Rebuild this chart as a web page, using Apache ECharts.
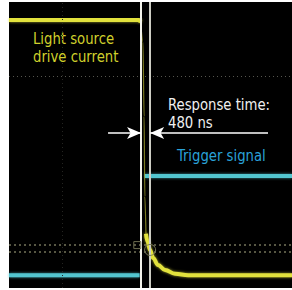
<!DOCTYPE html>
<html>
<head>
<meta charset="utf-8">
<script src="https://cdn.jsdelivr.net/npm/echarts@6/dist/echarts.min.js"></script>
<style>
  html, body { margin: 0; padding: 0; background: #fff; }
  #chart { width: 292px; height: 290px; }
</style>
</head>
<body>
<div id="chart"></div>
<script>
// time in µs (trigger at 0), level in screen divisions
var timeRange = [-7, 8]
var levelRange = [0, 10]

// light source drive current (yellow trace): on level, fast falling edge, decay
var driveHigh = [[-7, 9.37], [-0.1, 9.37], [-0.02, 9.3]]
var driveEdge = [[-0.02, 9.3], [0.1, 8.6], [0.16, 6.0], [0.2, 3.2], [0.26, 1.9]]
var driveDecay = [
  [0.26, 1.9], [0.34, 1.62], [0.48, 1.33], [0.64, 1.05], [0.9, 0.8],
  [1.27, 0.63], [1.8, 0.5], [2.5, 0.45], [8, 0.45]
]
// trigger signal (cyan trace), the fast edge itself is not drawn by the scope
var triggerSignal = [
  [-7, 0.45], [-0.08, 0.45], [0.1, '-'], [0.2, 3.92], [8, 3.92]
]

// response time markers
var responseStart = 0
var responseEnd = 0.48
var arrowLevel = 5.42
var arrowLeftFrom = -1.75
var arrowRightFrom = 6.73

// screen graticule / cursor lines
var gridLevels = [7.41]
var cursorLevels = [1.5, 1.26]
var gridTimes = [-4.19]

var FONT = '"Liberation Sans Narrow", "DejaVu Sans Condensed", sans-serif'
var YELLOW = '#e2e23e'

var chart = echarts.init(document.getElementById('chart'), null, { renderer: 'svg' })

function traceStyle (color, glow) {
  return {
    color: color,
    width: 4,
    shadowBlur: 3,
    shadowColor: glow
  }
}

var option = {
  backgroundColor: '#fff',
  animation: false,
  grid: {
    left: 9,
    right: 0,
    top: 2,
    bottom: 2,
    show: true,
    backgroundColor: '#000',
    borderWidth: 0
  },
  xAxis: {
    type: 'value',
    min: timeRange[0],
    max: timeRange[1],
    show: false
  },
  yAxis: {
    type: 'value',
    min: levelRange[0],
    max: levelRange[1],
    show: false
  },
  series: [
    {
      // graticule lines, drawn first so traces sit on top
      type: 'line',
      data: [],
      silent: true,
      markLine: {
        silent: true,
        symbol: 'none',
        label: { show: false },
        data: gridLevels.map(function (v) {
          return { yAxis: v, lineStyle: { color: '#55554e', width: 1, type: [1, 3] } }
        }).concat(cursorLevels.map(function (v) {
          return { yAxis: v, lineStyle: { color: '#74745a', width: 1.5, type: [2, 3] } }
        })).concat(gridTimes.map(function (v) {
          return { xAxis: v, lineStyle: { color: '#242420', width: 1, type: [1, 3] } }
        }))
      }
    },
    {
      name: 'Trigger signal',
      type: 'line',
      data: triggerSignal,
      symbol: 'none',
      connectNulls: false,
      lineStyle: traceStyle('#52c6d0', 'rgba(82,198,208,0.7)')
    },
    {
      name: 'Light source drive current',
      type: 'line',
      data: driveHigh,
      symbol: 'none',
      lineStyle: traceStyle(YELLOW, 'rgba(226,226,62,0.7)')
    },
    {
      type: 'line',
      data: driveEdge,
      symbol: 'none',
      smooth: 0.3,
      smoothMonotone: 'x',
      lineStyle: { color: YELLOW, width: 1.2, opacity: 0.55 }
    },
    {
      type: 'line',
      data: driveDecay,
      symbol: 'none',
      smooth: 0.4,
      smoothMonotone: 'x',
      lineStyle: traceStyle(YELLOW, 'rgba(226,226,62,0.7)'),
      markPoint: {
        silent: true,
        label: { show: false },
        data: [
          { coord: [-0.2, 1.5], symbol: 'rect', symbolSize: 7, itemStyle: { color: 'rgba(0,0,0,0)', borderColor: '#6e6e50', borderWidth: 1 } },
          { coord: [0.48, 1.33], symbol: 'circle', symbolSize: 11, itemStyle: { color: 'rgba(0,0,0,0)', borderColor: '#7a7a5c', borderWidth: 1 } }
        ]
      }
    },
    {
      // response time cursors and arrows
      type: 'line',
      data: [],
      silent: true,
      markLine: {
        silent: true,
        label: { show: false },
        symbol: 'none',
        data: [
          { xAxis: responseStart, lineStyle: { color: '#f2f2ea', width: 2, type: 'solid' } },
          { xAxis: responseEnd, lineStyle: { color: '#cdcdc4', width: 2, type: 'solid' } },
          [
            { coord: [arrowLeftFrom, arrowLevel], symbol: 'none' },
            { coord: [responseStart, arrowLevel], symbol: 'arrow', symbolSize: [9, 14] }
          ],
          [
            { coord: [arrowRightFrom, arrowLevel], symbol: 'none' },
            { coord: [responseEnd, arrowLevel], symbol: 'arrow', symbolSize: [9, 14] }
          ]
        ].map(function (d) {
          if (Array.isArray(d)) {
            d[0].lineStyle = { color: '#fff', width: 1.5, type: 'solid' }
            d[1].itemStyle = { color: '#fff' }
          }
          return d
        })
      }
    }
  ],
  // DejaVu Condensed is wider than the original condensed face, so squeeze it a little
  graphic: [
    {
      type: 'text',
      x: 33,
      y: 30,
      scaleX: 0.92,
      silent: true,
      style: {
        text: 'Light source\ndrive current',
        fill: '#d0d02c',
        font: '16px ' + FONT,
        lineHeight: 18
      }
    },
    {
      type: 'text',
      x: 168,
      y: 96,
      scaleX: 0.92,
      silent: true,
      style: {
        text: 'Response time:\n480 ns',
        fill: '#f0f0f0',
        font: '16px ' + FONT,
        lineHeight: 18
      }
    },
    {
      type: 'text',
      x: 177,
      y: 147,
      scaleX: 0.92,
      silent: true,
      style: {
        text: 'Trigger signal',
        fill: '#2aa2d8',
        font: '16px ' + FONT,
        lineHeight: 18
      }
    }
  ]
}

chart.setOption(option)
</script>
</body>
</html>
